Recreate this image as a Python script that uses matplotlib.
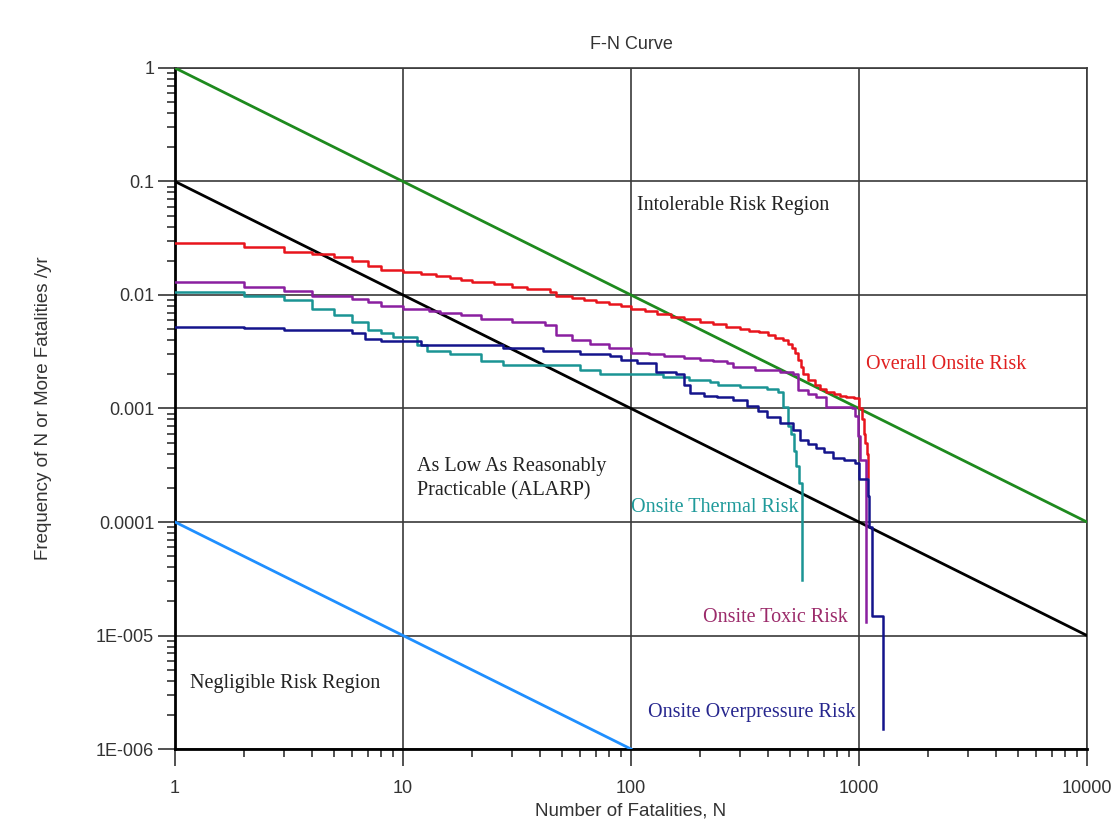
import matplotlib
matplotlib.use('Agg')
import matplotlib.pyplot as plt
from matplotlib.ticker import FixedLocator, FixedFormatter, LogLocator, NullFormatter
import numpy as np

# criterion lines
crit_n = [1, 10000]
upper_f = [1.0, 1e-4]
lower_f = [0.1, 1e-5]
negl_n = [1, 100]
negl_f = [1e-4, 1e-6]

# F-N step curves (N where the step starts, F from there on)
overall_n = [1, 2, 3, 4, 5, 6, 7, 8, 10, 12, 14, 16, 18, 20, 25, 30, 35, 44, 47, 55, 62, 70, 80,
             90, 100, 115, 130, 150, 170, 200, 230, 260, 300, 330, 366, 400, 430, 464, 490, 510,
             525, 540, 555, 570, 600, 640, 673, 720, 780, 823, 880, 954, 1000, 1030, 1050, 1065,
             1080, 1090]
overall_f = [0.0285, 0.0263, 0.0241, 0.023, 0.0218, 0.020, 0.018, 0.0166, 0.0158, 0.0152, 0.0146,
             0.0140, 0.0135, 0.0131, 0.0124, 0.0118, 0.0113, 0.0107, 0.0098, 0.0094, 0.0090,
             0.0087, 0.0083, 0.0080, 0.0076, 0.0072, 0.0068, 0.0064, 0.0061, 0.0058, 0.0055,
             0.0052, 0.0050, 0.0048, 0.0047, 0.0044, 0.0042, 0.0040, 0.0037, 0.0034, 0.0031,
             0.0027, 0.0023, 0.0020, 0.0018, 0.0016, 0.0015, 0.0014, 0.00135, 0.0013, 0.00127,
             0.00123, 0.0010, 0.0008, 0.0006, 0.0005, 0.0004, 0.00025]

toxic_n = [1, 2, 3, 4, 6, 7, 8, 10, 13, 14.5, 18, 22, 30, 42, 47, 55, 66, 80, 100, 120, 140, 170,
           200, 230, 263, 280, 350, 450, 515, 540, 600, 650, 720, 935, 960, 990, 1010, 1070]
toxic_f = [0.0131, 0.0118, 0.0109, 0.0098, 0.0093, 0.0087, 0.0080, 0.0076, 0.0073, 0.0070, 0.0066,
           0.0062, 0.0058, 0.0054, 0.0044, 0.0040, 0.0037, 0.0034, 0.0031, 0.0030, 0.0029,
           0.0028, 0.0027, 0.0026, 0.0025, 0.0023, 0.0022, 0.0021, 0.0020, 0.00145, 0.00135,
           0.00126, 0.00104, 0.001, 0.00086, 0.00057, 0.00035, 1.32e-5]

thermal_n = [1, 2, 3, 4, 5, 6, 7, 8, 9, 11.5, 12.7, 16, 22, 27.5, 60, 73, 138, 180, 221, 240,
             300, 393, 440, 464, 488, 505, 520, 532, 545, 560]
thermal_f = [0.0107, 0.0098, 0.0091, 0.0076, 0.0066, 0.0058, 0.0049, 0.0046, 0.0043, 0.0036,
             0.0032, 0.0030, 0.0026, 0.0024, 0.0022, 0.0020, 0.0019, 0.0018, 0.0017, 0.0016,
             0.00155, 0.0015, 0.0014, 0.00104, 0.0007, 0.0006, 0.00042, 0.00031, 0.00022, 3.1e-5]

overp_n = [1, 2, 3, 6, 6.8, 8, 12, 27.5, 41, 60, 81, 90, 106, 129, 158, 170, 181, 210, 238, 280,
           322, 360, 393, 450, 515, 550, 600, 650, 700, 768, 860, 960, 1000, 1090, 1105, 1135, 1280]
overp_f = [0.0052, 0.0051, 0.0049, 0.0046, 0.0041, 0.0039, 0.0036, 0.0034, 0.0032, 0.0030,
           0.0029, 0.0027, 0.0025, 0.0021, 0.0020, 0.0016, 0.00137, 0.0013, 0.00125, 0.0012,
           0.00105, 0.00095, 0.00085, 0.00075, 0.00065, 0.00053, 0.00049, 0.00045, 0.00041,
           0.00037, 0.00035, 0.00033, 0.00024, 0.00017, 9e-5, 1.5e-5, 1.5e-6]

x_ticks = [1, 10, 100, 1000, 10000]
x_labels = ['1', '10', '100', '1000', '10000']
y_ticks = [1, 0.1, 0.01, 0.001, 0.0001, 1e-5, 1e-6]
y_labels = ['1', '0.1', '0.01', '0.001', '0.0001', '1E-005', '1E-006']

sans = ['Liberation Sans Narrow', 'Liberation Sans', 'DejaVu Sans']
serif = ['Liberation Serif', 'DejaVu Serif']

fig = plt.figure(figsize=(11.17, 8.25), dpi=100)
ax = fig.add_axes([0.1567, 0.0921, 0.8164, 0.8255])
ax.set_xscale('log')
ax.set_yscale('log')
ax.set_xlim(1, 10000)
ax.set_ylim(1e-6, 1)

ax.grid(True, which='major', color='#3a3a3a', linewidth=1.2)
ax.set_axisbelow(True)

ax.plot(crit_n, upper_f, color='#1e8a1e', linewidth=2, zorder=3)
ax.plot(crit_n, lower_f, color='black', linewidth=2, zorder=3)
ax.plot(negl_n, negl_f, color='#1f8fff', linewidth=2, zorder=3)

ax.plot(overall_n, overall_f, drawstyle='steps-post', color='#e8141c', linewidth=1.8, zorder=4)
ax.plot(toxic_n, toxic_f, drawstyle='steps-post', color='#8a1fa0', linewidth=1.8, zorder=5)
ax.plot(thermal_n, thermal_f, drawstyle='steps-post', color='#1a9494', linewidth=1.8, zorder=5)
ax.plot(overp_n, overp_f, drawstyle='steps-post', color='#14148c', linewidth=1.8, zorder=5)

fs = 14.5
ax.text(106, 0.062, 'Intolerable Risk Region', family=serif, fontsize=fs, color='#222222', va='center')
ax.text(11.5, 0.00024, 'As Low As Reasonably\nPracticable (ALARP)', family=serif, fontsize=fs,
        color='#222222', va='center', linespacing=1.4)
ax.text(1.16, 3.8e-6, 'Negligible Risk Region', family=serif, fontsize=fs, color='#222222', va='center')
ax.text(1073, 0.00246, 'Overall Onsite Risk', family=serif, fontsize=fs, color='#e02020', va='center')
ax.text(100, 0.000133, 'Onsite Thermal Risk', family=serif, fontsize=fs, color='#1f9a9a', va='center')
ax.text(895, 1.43e-5, 'Onsite Toxic Risk', family=serif, fontsize=fs, color='#9b2a6a',
        ha='right', va='center')
ax.text(970, 2.1e-6, 'Onsite Overpressure Risk', family=serif, fontsize=fs, color='#26268e',
        ha='right', va='center')

ax.xaxis.set_major_locator(FixedLocator(x_ticks))
ax.xaxis.set_major_formatter(FixedFormatter(x_labels))
ax.yaxis.set_major_locator(FixedLocator(y_ticks))
ax.yaxis.set_major_formatter(FixedFormatter(y_labels))
ax.xaxis.set_minor_locator(LogLocator(base=10, subs=np.arange(2, 10), numticks=20))
ax.yaxis.set_minor_locator(LogLocator(base=10, subs=np.arange(2, 10), numticks=20))
ax.xaxis.set_minor_formatter(NullFormatter())
ax.yaxis.set_minor_formatter(NullFormatter())

ax.tick_params(which='major', direction='out', length=12, width=1.2, color='#333333',
               labelsize=13, pad=10)
ax.tick_params(which='minor', direction='out', length=6, width=1.2, color='#333333')
ax.tick_params(axis='y', which='major', pad=3)
for lab in ax.get_xticklabels() + ax.get_yticklabels():
    lab.set_family(sans)
    lab.set_color('#333333')

for side in ['left', 'bottom']:
    ax.spines[side].set_linewidth(2)
    ax.spines[side].set_color('black')
for side in ['top', 'right']:
    ax.spines[side].set_linewidth(1.2)
    ax.spines[side].set_color('#3a3a3a')

ax.set_title('F-N Curve', family=sans, fontsize=13, color='#333333', pad=14)
ax.set_xlabel('Number of Fatalities, N', family=sans, fontsize=13.5, color='#333333', labelpad=4)
ax.set_ylabel('Frequency of N or More Fatalities /yr', family=sans, fontsize=13.5,
              color='#333333', labelpad=32)

fig.savefig('out.png', dpi=100)
